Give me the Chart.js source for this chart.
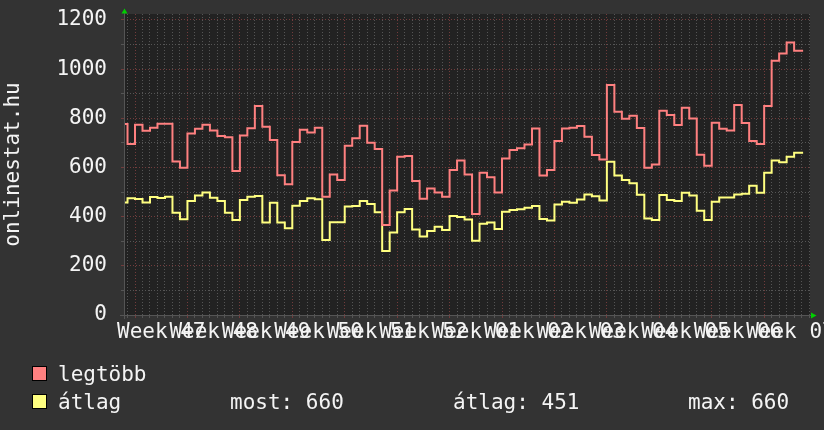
<!DOCTYPE html>
<html>
<head>
<meta charset="utf-8">
<title>onlinestat.hu</title>
<script src="https://cdn.jsdelivr.net/npm/chart.js@4.4.1/dist/chart.umd.min.js"></script>
<style>
  html, body { margin: 0; padding: 0; background: #333333; }
  canvas { display: block; }
</style>
</head>
<body>
<canvas id="onlineChart" width="824" height="430"></canvas>
<script>
// napi ertekek, a 47. het hetfoje elotti masodik naptol (-2) kezdve
const firstDay = -2;
const lastDayEnd = 89.2;

const legtobb = [
    777, 696, 774, 749, 762, 778, 778, 624, 599, 738,
    758, 774, 750, 728, 723, 586, 730, 760, 850, 766,
    712, 568, 532, 704, 754, 742, 762, 481, 572, 549,
    688, 719, 770, 701, 675, 366, 506, 644, 647, 545,
    473, 515, 498, 481, 590, 628, 572, 411, 579, 560,
    498, 637, 671, 678, 694, 759, 567, 590, 708, 759,
    762, 769, 725, 651, 633, 936, 827, 798, 811, 761,
    599, 612, 831, 814, 773, 843, 799, 652, 607, 782,
    758, 750, 854, 781, 708, 696, 850, 1034, 1064, 1108,
    1075
];

const atlag = [
    458, 475, 472, 458, 480, 476, 481, 416, 389, 464,
    486, 498, 477, 464, 416, 386, 468, 481, 484, 376,
    457, 376, 353, 444, 464, 475, 471, 305, 377, 377,
    441, 443, 464, 452, 418, 260, 336, 418, 431, 348,
    319, 342, 359, 346, 403, 399, 388, 302, 371, 376,
    350, 420, 427, 430, 436, 443, 390, 384, 449, 461,
    457, 470, 490, 483, 466, 623, 567, 549, 536, 489,
    393, 386, 488, 468, 464, 497, 486, 424, 386, 461,
    478, 478, 490, 493, 526, 497, 579, 628, 621, 644,
    660
];

const weekLabels = ['47', '48', '49', '50', '51', '52', '01', '02', '03', '04', '05', '06', '07'];
const seriesNames = ['legtöbb', 'átlag'];
const seriesColors = ['#ff8080', '#ffff80'];
const statNames = ['most', 'átlag', 'max'];
const statValues = [660, 451, 660];
const yTitle = 'onlinestat.hu';

const FONT = '21px "DejaVu Sans Mono"';
const TEXT = '#f4f4f4';
const MINOR = '#555555';
const MAJOR = '#723c3c';

function toPoints(values) {
    const pts = values.map((v, i) => ({ x: firstDay + i, y: v }));
    pts.push({ x: lastDayEnd, y: values[values.length - 1] });
    return pts;
}

function isWhole(v) {
    return Math.abs(v - Math.round(v)) < 1e-6;
}

const rrdDecor = {
    id: 'rrdDecor',
    beforeDraw(chart) {
        const { ctx, chartArea: a } = chart;
        ctx.save();
        ctx.fillStyle = '#333333';
        ctx.fillRect(0, 0, chart.width, chart.height);
        ctx.fillStyle = '#222222';
        ctx.fillRect(a.left, a.top, a.right - a.left, a.bottom - a.top);
        ctx.restore();
    },
    afterDraw(chart) {
        const { ctx, chartArea: a } = chart;
        const xs = chart.scales.x;
        ctx.save();

        // tengelyek
        ctx.strokeStyle = '#555555';
        ctx.lineWidth = 1;
        ctx.beginPath();
        ctx.moveTo(120, a.bottom + 0.5);
        ctx.lineTo(a.right + 2, a.bottom + 0.5);
        ctx.moveTo(a.left + 0.5, a.bottom + 4);
        ctx.lineTo(a.left + 0.5, 13);
        ctx.stroke();

        // zold nyilak
        ctx.fillStyle = '#00d000';
        ctx.beginPath();
        ctx.moveTo(a.left + 0.5, 8.5);
        ctx.lineTo(a.left - 2.5, 13.5);
        ctx.lineTo(a.left + 3.5, 13.5);
        ctx.closePath();
        ctx.fill();
        ctx.beginPath();
        ctx.moveTo(816.5, a.bottom + 0.5);
        ctx.lineTo(811, a.bottom - 2.5);
        ctx.lineTo(811, a.bottom + 3.5);
        ctx.closePath();
        ctx.fill();

        ctx.font = FONT;
        ctx.fillStyle = TEXT;
        ctx.textBaseline = 'alphabetic';

        // x feliratok (egymasra csuszva, mint az eredetin)
        ctx.textAlign = 'left';
        weekLabels.forEach((w, i) => {
            ctx.fillText('Week ' + w, xs.getPixelForValue(i * 7) - 18, 338);
        });

        // y cim
        ctx.save();
        ctx.translate(18.5, (a.top + a.bottom) / 2);
        ctx.rotate(-Math.PI / 2);
        ctx.textAlign = 'center';
        ctx.fillText(yTitle, 0, 0);
        ctx.restore();

        // jelmagyarazat
        const rows = [381, 409];
        seriesNames.forEach((name, i) => {
            ctx.fillStyle = seriesColors[i];
            ctx.fillRect(32, rows[i] - 15, 15, 15);
            ctx.strokeStyle = '#000000';
            ctx.strokeRect(32.5, rows[i] - 14.5, 14, 14);
            ctx.fillStyle = TEXT;
            ctx.fillText(name, 58, rows[i]);
        });
        const statX = [230, 453, 688];
        statNames.forEach((name, i) => {
            ctx.fillText(name + ': ' + statValues[i], statX[i], rows[1]);
        });

        ctx.restore();
    }
};

new Chart(document.getElementById('onlineChart'), {
    type: 'line',
    data: {
        datasets: [{
            label: seriesNames[0],
            data: toPoints(legtobb),
            borderColor: seriesColors[0],
            borderWidth: 2,
            pointRadius: 0,
            stepped: true
        }, {
            label: seriesNames[1],
            data: toPoints(atlag),
            borderColor: seriesColors[1],
            borderWidth: 2,
            pointRadius: 0,
            stepped: true
        }]
    },
    options: {
        responsive: false,
        animation: false,
        events: [],
        layout: { padding: { top: 14, right: 14, left: 0, bottom: 0 } },
        plugins: {
            legend: { display: false },
            tooltip: { enabled: false }
        },
        scales: {
            x: {
                type: 'linear',
                min: -1.47,
                max: 90.12,
                ticks: { display: false, stepSize: 1, maxTicksLimit: 1000, autoSkip: false, includeBounds: false },
                afterBuildTicks: s => { s.ticks = s.ticks.filter(t => isWhole(t.value)); },
                afterFit: s => {
                    s.height = 115;
                    s.paddingLeft = 0;
                    s.paddingRight = 0;
                },
                grid: {
                    color: c => (c.tick && Math.round(c.tick.value) % 7 === 0) ? MAJOR : MINOR,
                    tickLength: 3,
                    lineWidth: 1
                },
                border: { display: false, dash: [1, 2] }
            },
            y: {
                type: 'linear',
                min: 0,
                max: 1224.4,
                ticks: {
                    stepSize: 100,
                    maxTicksLimit: 1000,
                    autoSkip: false,
                    includeBounds: false,
                    padding: 14,
                    color: TEXT,
                    font: { family: 'DejaVu Sans Mono', size: 21, lineHeight: 1 },
                    callback: v => (v % 200 === 0 ? v : '')
                },
                afterBuildTicks: s => { s.ticks = s.ticks.filter(t => isWhole(t.value / 100)); },
                afterFit: s => {
                    s.width = 124;
                    s.paddingTop = 0;
                    s.paddingBottom = 0;
                },
                grid: {
                    color: c => (c.tick && Math.round(c.tick.value) % 200 === 0) ? MAJOR : MINOR,
                    tickLength: 3,
                    lineWidth: 1
                },
                border: { display: false, dash: [1, 2] }
            }
        }
    },
    plugins: [rrdDecor]
});
</script>
</body>
</html>
